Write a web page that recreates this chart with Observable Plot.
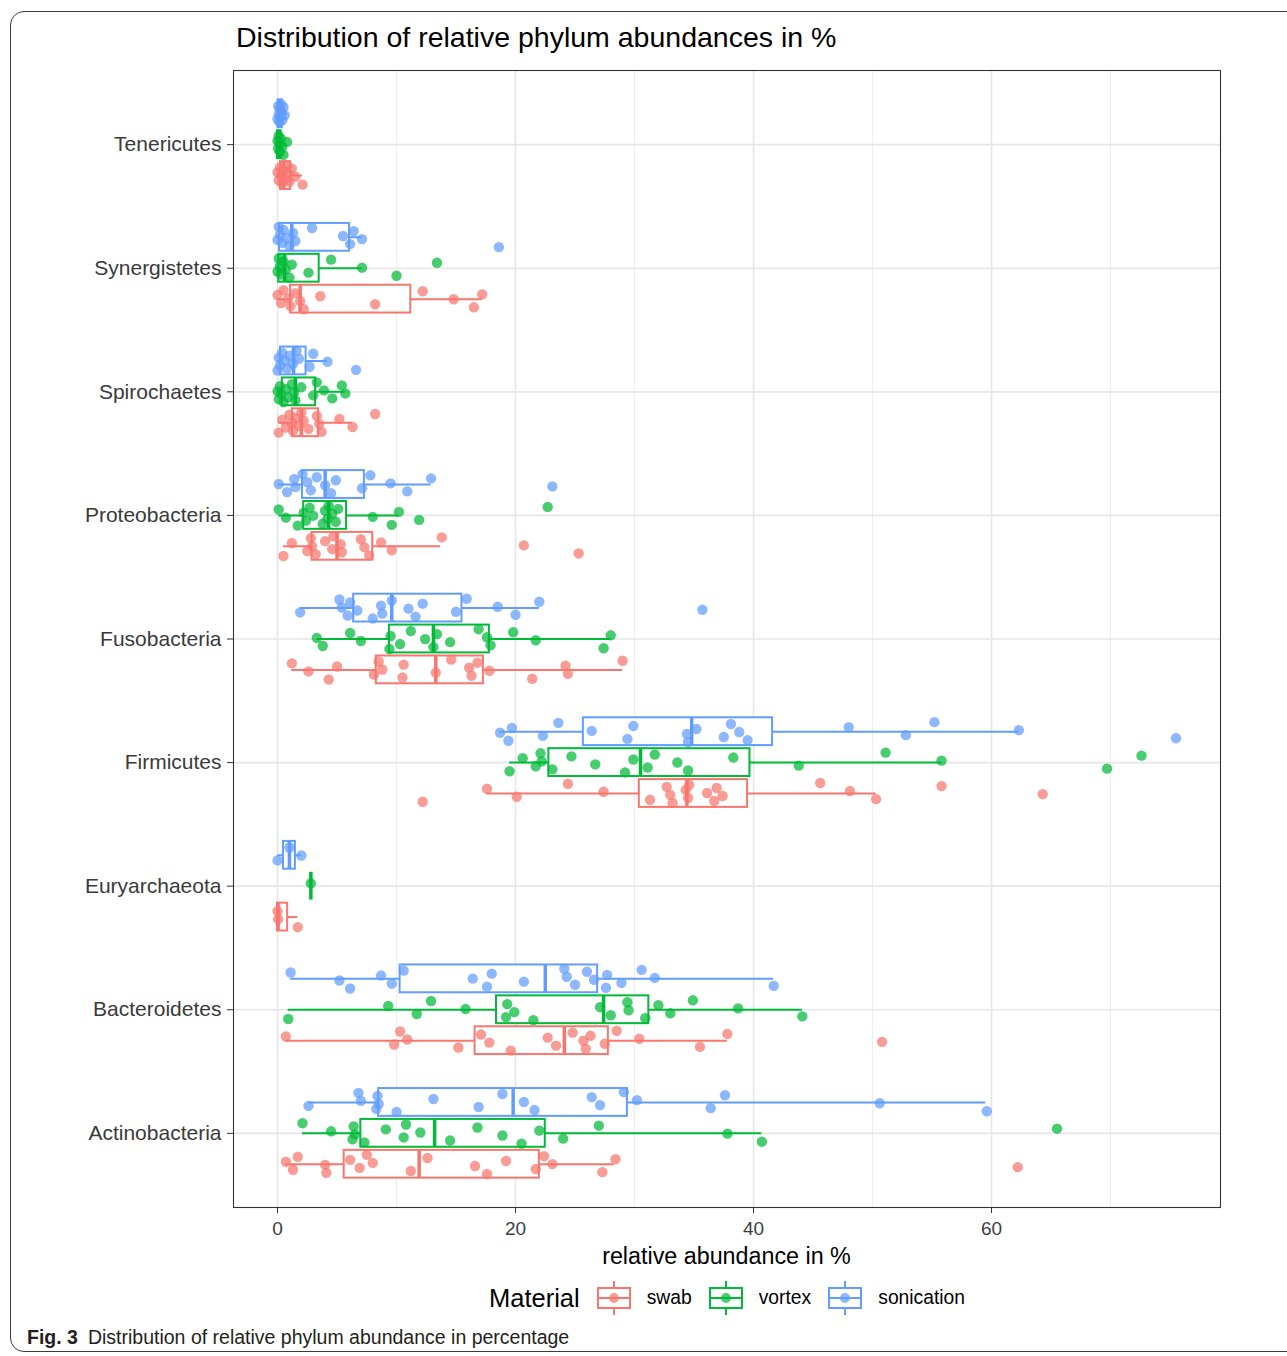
<!DOCTYPE html>
<html>
<head>
<meta charset="utf-8">
<script src="https://cdn.jsdelivr.net/npm/d3@7"></script>
<script src="https://cdn.jsdelivr.net/npm/@observablehq/plot@0.6"></script>
<style>
  html, body { margin: 0; padding: 0; background: #fff; }
  body { width: 1287px; height: 1356px; overflow: hidden; position: relative; font-family: "Liberation Sans", Arial, sans-serif; }
  #border { position: absolute; left: 10px; top: 11px; width: 1320px; height: 1341px; border: 1.3px solid #3c3c3c; border-radius: 14px; box-sizing: border-box; }
  #title { position: absolute; left: 236px; top: 21px; font-size: 28.5px; color: #000; white-space: nowrap; }
  #chart { position: absolute; left: 0; top: 0; }
  #xlabel { position: absolute; left: 233px; width: 987px; top: 1243px; text-align: center; font-size: 23.3px; color: #000; }
  #legend { position: absolute; left: 489px; top: 1281px; height: 34px; display: flex; align-items: center; white-space: nowrap; }
  #legend .ttl { font-size: 25.5px; margin-right: 17px; color: #000; }
  #legend svg { flex: none; }
  #legend .lab { font-size: 19.3px; margin-left: 16px; margin-right: 17px; color: #000; }
  #caption { position: absolute; left: 27px; top: 1326px; font-size: 19.5px; color: #231f20; white-space: nowrap; }
  #caption b { margin-right: 10px; }
</style>
</head>
<body>
<div id="border"></div>
<div id="title">Distribution of relative phylum abundances in %</div>
<div id="chart"></div>
<div id="xlabel">relative abundance in %</div>
<div id="legend"></div>
<div id="caption"><b>Fig. 3</b>Distribution of relative phylum abundance in percentage</div>
<script>
// ---- Categories (bottom to top, as in the reference) ----
const phyla = ["Actinobacteria", "Bacteroidetes", "Euryarchaeota", "Firmicutes", "Fusobacteria",
               "Proteobacteria", "Spirochaetes", "Synergistetes", "Tenericutes"];
const materials = ["swab", "vortex", "sonication"];
const materialColors = ["#F8766D", "#00BA38", "#619CFF"];
const xTicks = [0, 20, 40, 60];
const xMinorTicks = [10, 30, 50, 70];

// ---- Observed values (relative abundance in %), one list per phylum, in phyla order ----
const swabValues = [
  [0.7,1.3,1.7,4.0,4.1,6.1,6.9,7.5,8.0,11.2,12.6,16.6,17.6,19.2,21.7,22.4,23.1,27.3,28.4,62.2],
  [0.7,9.8,10.3,10.9,15.2,17.1,17.8,19.6,22.7,23.4,24.8,25.7,25.9,26.3,27.5,28.5,30.4,35.5,37.8,50.8],
  [0.0,0.05,1.7],
  [12.2,17.6,20.1,24.4,27.4,31.3,32.7,33.0,33.2,34.3,34.5,34.6,36.1,36.7,36.9,37.4,45.6,48.1,50.3,55.8,64.3],
  [1.2,2.6,4.3,5.0,8.1,8.5,8.8,10.5,10.6,13.3,14.6,16.1,16.3,16.8,17.8,21.4,24.2,24.4,29.0],
  [0.5,1.2,2.5,2.8,2.9,3.2,4.0,4.6,4.7,5.3,5.4,7.0,7.3,7.7,8.7,9.6,13.8,20.7,25.3],
  [0.1,0.4,0.7,1.0,1.2,1.3,1.5,1.8,2.0,2.2,2.6,3.3,3.5,3.7,5.2,6.3,8.2],
  [0.0,0.3,0.5,0.9,1.1,1.5,1.9,2.2,3.6,8.2,12.2,14.8,16.5,17.2],
  [0.0,0.1,0.2,0.3,0.4,0.5,0.6,0.8,0.9,1.0,1.2,1.5,2.1]
];
const vortexValues = [
  [2.1,4.5,6.3,6.4,6.5,7.3,9.1,10.6,10.8,12.0,14.5,16.8,18.9,20.5,22.0,24.0,27.0,37.8,40.7,65.5],
  [0.9,9.3,11.7,12.9,15.8,19.2,19.3,19.9,21.5,27.1,28.0,29.4,29.5,30.9,32.0,33.0,34.9,38.7,44.1],
  [2.8],
  [19.5,20.6,21.7,22.1,22.2,23.1,24.7,26.7,29.2,29.9,31.1,31.7,33.6,34.5,38.3,43.8,51.1,55.8,69.7,72.6],
  [3.3,3.8,6.1,7.0,9.4,9.5,10.3,11.2,12.4,13.1,13.4,14.5,16.9,17.6,17.9,19.8,21.7,27.4,28.0],
  [0.1,0.7,1.7,2.2,2.4,2.7,3.0,3.8,4.0,4.2,4.3,4.6,4.9,5.1,8.0,9.6,10.2,11.9,22.7],
  [0.0,0.1,0.2,0.3,0.5,0.7,0.9,1.2,1.4,1.5,2.0,3.0,3.3,3.9,4.6,5.4,5.7],
  [0.0,0.1,0.2,0.3,0.5,0.7,1.0,1.2,2.6,4.5,7.1,10.0,13.4],
  [0.0,0.05,0.1,0.15,0.2,0.3,0.4,0.5,0.8]
];
const sonicationValues = [
  [2.6,6.8,7.0,8.3,8.4,8.5,10.0,13.1,16.9,18.9,20.7,21.6,26.4,27.1,29.1,30.2,36.4,37.6,50.6,59.6],
  [1.1,5.2,6.1,8.7,9.6,10.6,16.4,17.6,18.0,20.7,24.1,24.3,25.0,26.0,26.6,27.6,27.7,28.9,30.6,31.7,41.7],
  [0.0,1.0,2.0],
  [18.7,19.4,19.7,22.3,23.6,26.4,29.4,29.9,34.4,34.5,35.2,37.5,38.1,38.8,39.5,48.0,52.8,55.2,62.3,75.5],
  [1.9,5.2,5.4,5.9,6.1,6.7,8.0,8.7,8.8,9.6,11.0,11.6,12.2,15.0,15.9,18.5,20.0,22.0,35.7],
  [0.1,0.8,1.4,1.5,2.1,2.5,2.8,3.3,4.0,4.5,4.9,7.1,7.8,9.5,10.9,12.9,23.1],
  [0.0,0.1,0.2,0.4,0.6,0.8,1.0,1.3,1.6,1.8,2.7,3.0,4.2,6.6],
  [0.0,0.1,0.2,0.4,0.5,0.8,1.0,1.3,1.5,2.9,5.5,6.1,6.4,7.1,18.6],
  [0.0,0.05,0.1,0.15,0.2,0.25,0.3,0.35,0.4,0.5,0.6]
];

// ---- Box statistics: [lower whisker, Q1, median, Q3, upper whisker] ----
const swabBoxes = [
  [0.7,5.6,11.9,22.0,28.3], [0.7,16.6,24.1,27.8,37.8], [0.0,0.0,0.05,0.85,1.7],
  [17.6,30.4,34.4,39.5,50.3], [1.2,8.3,13.3,17.3,29.0], [0.5,2.9,5.0,8.0,13.7],
  [0.1,1.25,2.0,3.45,6.3], [0.0,1.1,1.9,11.2,17.2], [0.0,0.25,0.5,1.1,2.1]
];
const vortexBoxes = [
  [2.1,7.0,13.2,22.5,40.7], [0.9,18.4,27.4,31.2,44.1], [2.8,2.8,2.8,2.8,2.8],
  [19.5,22.8,30.5,39.7,55.8], [3.3,9.4,13.1,17.8,28.0], [0.1,2.2,4.3,5.8,10.2],
  [0.0,0.4,1.5,3.2,5.7], [0.0,0.1,0.6,3.5,7.1], [0.0,0.0,0.1,0.3,0.8]
];
const sonicationBoxes = [
  [2.6,8.5,19.8,29.4,59.5], [1.1,10.3,22.5,26.9,41.7], [0.0,0.5,1.0,1.5,2.0],
  [18.7,25.7,34.8,41.6,62.3], [1.9,6.4,9.6,15.5,22.0], [0.1,2.1,4.0,7.3,12.9],
  [0.0,0.25,1.35,2.4,4.2], [0.0,0.17,1.2,6.05,7.1], [0.0,0.05,0.2,0.4,0.8]
];

// ---- Build tables for Plot ----
const valuesBy = {swab: swabValues, vortex: vortexValues, sonication: sonicationValues};
const boxesBy = {swab: swabBoxes, vortex: vortexBoxes, sonication: sonicationBoxes};
const dodge = {swab: -0.25, vortex: 0, sonication: 0.25};   // position_dodge(0.75) on a unit band
const halfBox = 0.1125;                                       // 0.9 of a dodged slot, halved
const jitterHeight = 0.17;

const boxRows = [];
const pointRows = [];
let n = 0;
phyla.forEach((p, i) => {
  materials.forEach(m => {
    const b = boxesBy[m][i];
    const pos = i + 1 + dodge[m];
    boxRows.push({phylum: p, material: m, pos, lo: b[0], q1: b[1], med: b[2], q3: b[3], hi: b[4]});
    valuesBy[m][i].forEach(v => {
      n++;
      const j = ((n * 0.6180339887) % 1 - 0.5) * jitterHeight; // deterministic jitter spread
      pointRows.push({phylum: p, material: m, value: v, pos: pos + j});
    });
  });
});

const catTicks = phyla.map((p, i) => i + 1);

const chart = Plot.plot({
  width: 1287,
  height: 1276,
  marginLeft: 233,
  marginRight: 67,
  marginTop: 70,
  marginBottom: 69,
  style: {fontFamily: "'Liberation Sans', Arial, sans-serif", fontSize: "18px", background: "transparent", color: "#000"},
  x: {domain: [-3.70, 79.24]},
  y: {domain: [0.4, 9.6]},
  color: {domain: materials, range: materialColors},
  marks: [
    Plot.gridX({ticks: xMinorTicks, stroke: "#ebebeb", strokeOpacity: 1, strokeWidth: 0.9}),
    Plot.gridX({ticks: xTicks, stroke: "#e6e6e6", strokeOpacity: 1, strokeWidth: 1.6}),
    Plot.gridY({ticks: catTicks, stroke: "#e6e6e6", strokeOpacity: 1, strokeWidth: 1.6}),
    Plot.ruleY(boxRows, {y: "pos", x1: "lo", x2: "hi", stroke: "material", strokeWidth: 2}),
    Plot.rect(boxRows, {x1: "q1", x2: "q3", y1: d => d.pos - halfBox, y2: d => d.pos + halfBox,
                        fill: "white", stroke: "material", strokeWidth: 2}),
    Plot.ruleX(boxRows, {x: "med", y1: d => d.pos - halfBox, y2: d => d.pos + halfBox,
                         stroke: "material", strokeWidth: 3.5}),
    Plot.dot(pointRows, {x: "value", y: "pos", fill: "material", r: 5.2, fillOpacity: 0.72, stroke: null}),
    Plot.frame({stroke: "#333", strokeWidth: 1.1}),
    Plot.axisX({ticks: xTicks, tickSize: 6, tickPadding: 8, fontSize: 19, label: null,
                stroke: "#333", fill: "#404040"}),
    Plot.axisY({ticks: catTicks, tickFormat: i => phyla[i - 1], tickSize: 6, tickPadding: 6,
                fontSize: 21, label: null, stroke: "#333", fill: "#3a3a3a"})
  ]
});
document.getElementById("chart").appendChild(chart);

// ---- Legend ----
const legend = d3.select("#legend");
legend.append("span").attr("class", "ttl").text("Material");
materials.forEach((m, i) => {
  const c = materialColors[i];
  const s = legend.append("svg").attr("width", 34).attr("height", 34);
  s.append("line").attr("x1", 17).attr("x2", 17).attr("y1", 0).attr("y2", 34).attr("stroke", c).attr("stroke-width", 2);
  s.append("rect").attr("x", 1).attr("y", 7).attr("width", 32).attr("height", 20).attr("fill", "white").attr("stroke", c).attr("stroke-width", 2);
  s.append("line").attr("x1", 1).attr("x2", 33).attr("y1", 17).attr("y2", 17).attr("stroke", c).attr("stroke-width", 2);
  s.append("circle").attr("cx", 17).attr("cy", 17).attr("r", 5).attr("fill", c).attr("fill-opacity", 0.72);
  legend.append("span").attr("class", "lab").text(m);
});
</script>
</body>
</html>
